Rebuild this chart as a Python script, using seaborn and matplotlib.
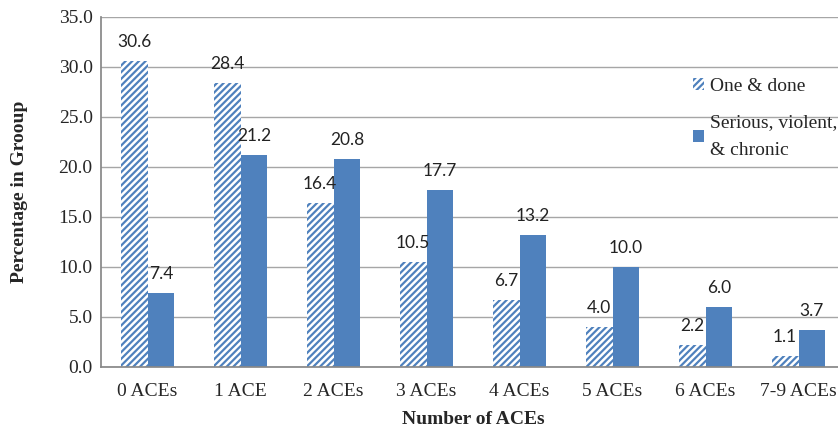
import matplotlib
matplotlib.use("Agg")
import matplotlib.pyplot as plt
import seaborn as sns
import pandas as pd

categories = ["0 ACEs", "1 ACE", "2 ACEs", "3 ACEs", "4 ACEs", "5 ACEs", "6 ACEs", "7-9 ACEs"]
one_and_done = [30.6, 28.4, 16.4, 10.5, 6.7, 4.0, 2.2, 1.1]
serious_violent_chronic = [7.4, 21.2, 20.8, 17.7, 13.2, 10.0, 6.0, 3.7]
series_names = ["One & done", "Serious, violent,\n& chronic"]
y_ticks = [0, 5, 10, 15, 20, 25, 30, 35]

df = pd.DataFrame({
    "category": categories * 2,
    "value": one_and_done + serious_violent_chronic,
    "group": [series_names[0]] * len(categories) + [series_names[1]] * len(categories),
})

sns.set_theme(style="white")
plt.rcParams["font.family"] = ["Liberation Serif", "DejaVu Serif"]
plt.rcParams["hatch.color"] = "#4F81BD"
plt.rcParams["hatch.linewidth"] = 1.6

blue = "#4F81BD"
fig = plt.figure(figsize=(8.38, 4.36), dpi=100)
W, H = 838, 436
ax = fig.add_axes([101 / W, 1 - 366.7 / H, (845 - 101) / W, (366.7 - 16.7) / H])

sns.barplot(data=df, x="category", y="value", hue="group", order=categories,
            hue_order=series_names, palette=[blue, blue], width=0.58,
            saturation=1, ax=ax, legend=True, errorbar=None)


def stripe(patch):
    patch.set_facecolor("white")
    patch.set_edgecolor(blue)
    patch.set_linewidth(0)
    patch.set_hatch("/////")


# Diagonal stripe fill for the first series
for bar in ax.containers[0]:
    stripe(bar)
for bar in ax.containers[1]:
    bar.set_edgecolor("none")

for cont in ax.containers:
    ax.bar_label(cont, fmt="%.1f", padding=8, fontsize=12.5,
                 family=["Lato", "DejaVu Sans"], color="#222222")

ax.set_ylim(0, 35)
ax.set_yticks(y_ticks)
ax.set_yticklabels([f"{v:.1f}" for v in y_ticks], fontsize=14)
ax.set_xlim(-0.5, len(categories) - 0.5)
ax.set_xticks(range(len(categories)))
ax.set_xticklabels(categories, fontsize=14)
ax.tick_params(axis="x", length=0, pad=12)
ax.tick_params(axis="y", length=0, pad=6)

# Boundary tick marks between categories on the x axis
ax.set_xticks([i - 0.5 for i in range(len(categories) + 1)], minor=True)
ax.tick_params(axis="x", which="minor", length=5, width=1, color="#888888", direction="out")

ax.yaxis.grid(True, color="#A6A6A6", linewidth=1)
ax.set_axisbelow(True)
for side in ["top", "right"]:
    ax.spines[side].set_visible(False)
ax.spines["left"].set_color("#888888")
ax.spines["bottom"].set_color("#888888")

ax.set_ylabel("Percentage in Grooup", fontsize=14, fontweight="bold", labelpad=22)
ax.set_xlabel("Number of ACEs", fontsize=14, fontweight="bold", labelpad=8)

leg = ax.legend(loc="upper left", bbox_to_anchor=(683 / W, 1 - 68 / H),
                bbox_transform=fig.transFigure, frameon=False, fontsize=14,
                handlelength=0.6, handleheight=0.6, handletextpad=0.3,
                labelspacing=1.0, borderpad=0)
stripe(leg.legend_handles[0])
leg.legend_handles[1].set_edgecolor("none")
for t in leg.get_texts():
    t.set_linespacing(1.8)

fig.savefig("out.png", dpi=100)
